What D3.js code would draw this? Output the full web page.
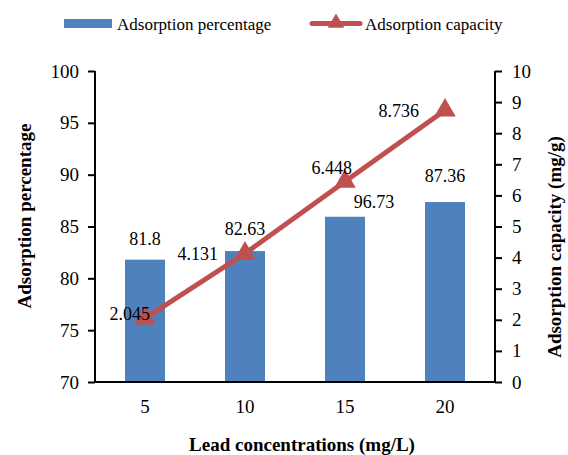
<!DOCTYPE html>
<html>
<head>
<meta charset="utf-8">
<script src="https://cdn.jsdelivr.net/npm/d3@7"></script>
</head>
<body style="margin:0;background:#fff">
<script>
// data
var concentrations = ['5', '10', '15', '20'];
var adsorptionPct = [81.8, 82.63, 85.94, 87.36];
var adsorptionPctLabels = ['81.8', '82.63', '96.73', '87.36'];
var adsorptionCap = [2.045, 4.131, 6.448, 8.736];
var adsorptionCapLabels = ['2.045', '4.131', '6.448', '8.736'];
var leftTicks = [70, 75, 80, 85, 90, 95, 100];
var rightTicks = [0, 1, 2, 3, 4, 5, 6, 7, 8, 9, 10];

var width = 568, height = 455;
var margin = {top: 71, right: 73, bottom: 73, left: 95};
var innerW = width - margin.left - margin.right,
    innerH = height - margin.top - margin.bottom;

var blue = '#4F81BD', red = '#C0504D';
var serif = "'Liberation Serif', serif";

var svg = d3.select('body').append('svg')
    .attr('width', width)
    .attr('height', height)
    .style('display', 'block');

var g = svg.append('g')
    .attr('transform', 'translate(' + margin.left + ',' + margin.top + ')');

var x = d3.scaleBand().domain(concentrations).range([0, innerW]).paddingInner(0.6).paddingOuter(0.3);
var yL = d3.scaleLinear().domain([70, 100]).range([innerH, 0]);
var yR = d3.scaleLinear().domain([0, 10]).range([innerH, 0]);

// bars
g.selectAll('.bar')
    .data(adsorptionPct)
    .enter().append('rect')
    .attr('class', 'bar')
    .attr('x', function(d, i) { return x(concentrations[i]); })
    .attr('width', x.bandwidth())
    .attr('y', function(d) { return yL(d); })
    .attr('height', function(d) { return innerH - yL(d); })
    .attr('fill', blue);

// bar labels (the third one was dragged off to the right in the original)
var barLabelDx = [0, 0, 29, 0], barLabelDy = [-15, -16, -9, -20];
g.selectAll('.barlabel')
    .data(adsorptionPctLabels)
    .enter().append('text')
    .attr('x', function(d, i) { return x(concentrations[i]) + x.bandwidth() / 2 + barLabelDx[i]; })
    .attr('y', function(d, i) { return yL(adsorptionPct[i]) + barLabelDy[i]; })
    .attr('text-anchor', 'middle')
    .style('font-family', serif)
    .style('font-size', '18px')
    .text(function(d) { return d; });

// axes
var axisL = d3.axisLeft(yL).tickValues(leftTicks).tickSize(7).tickPadding(9);
var axisR = d3.axisRight(yR).tickValues(rightTicks).tickSize(7).tickPadding(10);
var axisB = d3.axisBottom(x).tickSize(0).tickPadding(18);

var gl = g.append('g').call(axisL);
var gr = g.append('g').attr('transform', 'translate(' + innerW + ',0)').call(axisR);
var gb = g.append('g').attr('transform', 'translate(0,' + innerH + ')').call(axisB);

[gl, gr, gb].forEach(function(a) {
  a.attr('font-family', null);
  a.selectAll('path, line').attr('stroke', '#000').attr('stroke-width', 2);
  a.selectAll('text').attr('fill', '#000')
    .style('font-family', serif)
    .style('font-size', '19px');
});
gl.select('.domain').attr('d', 'M0,0V' + innerH);
gr.select('.domain').attr('d', 'M0,0V' + innerH);
gb.select('.domain').attr('d', 'M0,0H' + innerW);

// line
var cx = function(i) { return x(concentrations[i]) + x.bandwidth() / 2; };
var line = d3.line()
    .x(function(d, i) { return cx(i); })
    .y(function(d) { return yR(d); });

g.append('path')
    .datum(adsorptionCap)
    .attr('d', line)
    .attr('fill', 'none')
    .attr('stroke', red)
    .attr('stroke-width', 5);

var tri = d3.symbol().type(d3.symbolTriangle).size(200);
g.selectAll('.marker')
    .data(adsorptionCap)
    .enter().append('path')
    .attr('d', tri)
    .attr('transform', function(d, i) { return 'translate(' + cx(i) + ',' + yR(d) + ')'; })
    .attr('fill', red);

var capLabelDx = [5, -27, 7, -26], capLabelDy = [2, 6.5, -7.5, 6.7];
g.selectAll('.caplabel')
    .data(adsorptionCapLabels)
    .enter().append('text')
    .attr('x', function(d, i) { return cx(i) + capLabelDx[i]; })
    .attr('y', function(d, i) { return yR(adsorptionCap[i]) + capLabelDy[i]; })
    .attr('text-anchor', 'end')
    .style('font-family', serif)
    .style('font-size', '18px')
    .text(function(d) { return d; });

// axis titles
function title(sel, txt) {
  return sel.attr('text-anchor', 'middle')
    .style('font-family', serif)
    .style('font-size', '19px')
    .style('font-weight', 'bold')
    .text(txt);
}
title(svg.append('text').attr('x', margin.left + innerW / 2 + 7).attr('y', 451), 'Lead concentrations (mg/L)');
title(svg.append('text').attr('transform', 'translate(31,216) rotate(-90)'), 'Adsorption percentage');
title(svg.append('text').attr('transform', 'translate(561,247) rotate(-90)'), 'Adsorption capacity (mg/g)');

// legend
var lg = svg.append('g');
lg.append('rect').attr('x', 64).attr('y', 19).attr('width', 48).attr('height', 9).attr('fill', blue);
lg.append('text').attr('x', 117).attr('y', 30)
    .style('font-family', serif).style('font-size', '17px')
    .text('Adsorption percentage');
lg.append('line').attr('x1', 312).attr('x2', 360).attr('y1', 23.5).attr('y2', 23.5)
    .attr('stroke', red).attr('stroke-width', 5).attr('stroke-linecap', 'round');
lg.append('path').attr('d', d3.symbol().type(d3.symbolTriangle).size(120))
    .attr('transform', 'translate(336,23)').attr('fill', red);
lg.append('text').attr('x', 365).attr('y', 30)
    .style('font-family', serif).style('font-size', '17px')
    .text('Adsorption capacity');
</script>
</body>
</html>
